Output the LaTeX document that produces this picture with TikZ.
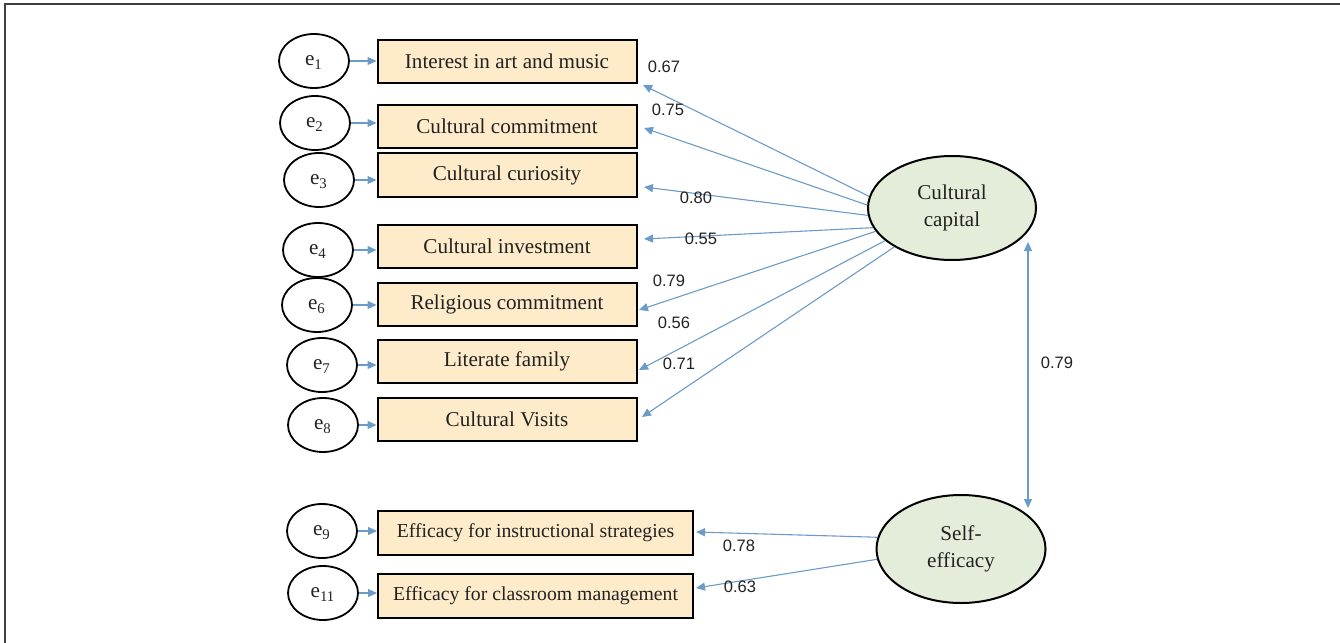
\documentclass[tikz,border=0pt]{standalone}
\usepackage{fontspec}
\setmainfont{Liberation Serif}
\newfontfamily\numfont{Liberation Sans}
\usetikzlibrary{arrows.meta,calc,shapes.geometric}
\definecolor{boxfill}{HTML}{FDEBC9}
\definecolor{latentfill}{HTML}{E3EDDA}
\definecolor{pathblue}{HTML}{6B9BC8}
\definecolor{inkgray}{HTML}{222222}
\begin{document}
\begin{tikzpicture}[x=0.5bp,y=-0.5bp]

  \tikzstyle{indicator}=[draw=black,line width=1bp,fill=boxfill,minimum width=129.5bp,
                         minimum height=21.5bp,inner sep=0pt,text=inkgray,
                         font=\fontsize{10.6}{12}\selectfont]
  \tikzstyle{efficacy}=[indicator,minimum width=157.5bp,minimum height=22bp,
                        font=\fontsize{9.9}{12}\selectfont]
  \tikzstyle{error}=[draw,ellipse,line width=0.9bp,minimum width=35bp,minimum height=27bp,
                     inner sep=0pt,text depth=0pt,text=inkgray,font=\fontsize{10.6}{12}\selectfont]
  \tikzstyle{latent}=[draw,ellipse,line width=1bp,fill=latentfill,minimum width=84bp,
                      minimum height=52bp,inner sep=0pt,align=center,text=inkgray,
                      font=\fontsize{10.6}{13.5}\selectfont]
  \tikzstyle{load}=[draw=pathblue,line width=0.55bp,-{Triangle[length=4.5bp,width=4bp]}]
  \tikzstyle{coef}=[font=\numfont\fontsize{8.3}{10}\selectfont,text=inkgray,inner sep=0pt]

  \useasboundingbox (0,0) rectangle (1340,643);
  \draw[line width=1bp,black!75] (5,643) -- (5,4) -- (1340,4);

  % latent factors
  \node[latent] (cc) at (952,208) {Cultural\\capital};
  \node[latent,minimum width=84.5bp,minimum height=54bp] (se) at (961,549) {Self-\\efficacy};

  % observed indicators, named after their error terms
  \foreach \name/\y/\text in {b1/61.5/Interest in art and music, b2/126.5/Cultural commitment,
                              b3/175/Cultural curiosity, b4/246/Cultural investment,
                              b6/304/Religious commitment, b7/361.5/Literate family,
                              b8/419.5/Cultural Visits}
    \node[indicator] (\name) at (507,\y) {\text};

  \foreach \name/\y/\text in {b9/532.5/Efficacy for instructional strategies,
                              b11/595.5/Efficacy for classroom management}
    \node[efficacy] (\name) at (535.5,\y) {\text};

  \foreach \i/\x/\y in {1/314/61, 2/315/123, 3/319/180, 4/318/250, 6/317/305,
                        7/322/365, 8/323/425, 9/322/531, 11/323/593}
    \node[error] (e\i) at (\x,\y) {e\textsubscript{\i}};

  \foreach \i in {1,2,3,4,6,7,8,9,11}
    \draw[load] (e\i.east) -- (e\i.east -| b\i.west);

  % factor loadings
  \foreach \i/\angle/\dx/\dy/\val/\lx/\ly in {1/172.4/5.5/23.5/0.67/664/67,
                                             2/178/6.5/1.5/0.75/668/110,
                                             3/185/6.5/12/0.80/696/198,
                                             4/194/6.5/-7/0.55/701/239,
                                             6/197/1.5/6/0.79/669/281,
                                             7/206/1.5/8.5/0.56/674/323,
                                             8/214/4.5/-2.5/0.71/679/364}
  {
    \draw[load] (cc.\angle) -- ($(b\i.east)+(\dx,\dy)$);
    \node[coef] (l\i) at (\lx,\ly) {\val};
  }

  \foreach \i/\angle/\dy/\val/\lx/\ly in {9/172.7/-0.5/0.78/739/546,
                                         11/187/-7.5/0.63/740/587}
  {
    \draw[load] (se.\angle) -- ($(b\i.east)+(2,\dy)$);
    \node[coef] (l\i) at (\lx,\ly) {\val};
  }

  % correlation between the factors
  \path (cc.center) ++(76,34) coordinate (cc-r);
  \path (se.center) ++(67,-41) coordinate (se-r);
  \draw[load,{Triangle[length=4.5bp,width=4bp]}-{Triangle[length=4.5bp,width=4bp]}] (cc-r) -- (se-r);
  \node[coef] (r1) at (1057,363) {0.79};
\end{tikzpicture}
\end{document}
